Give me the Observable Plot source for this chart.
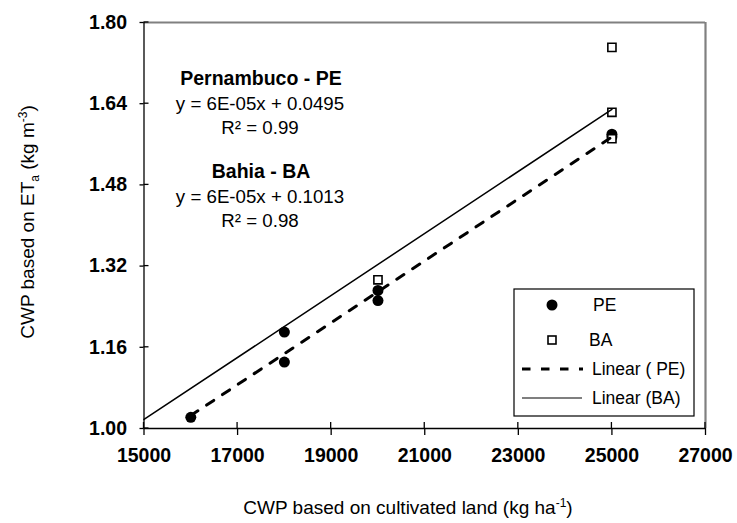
<!DOCTYPE html>
<html><head><meta charset="utf-8">
<script src="https://cdn.jsdelivr.net/npm/d3@7"></script>
<script src="https://cdn.jsdelivr.net/npm/@observablehq/plot@0.6"></script>
<style>
body{margin:0;background:#fff;}
svg{font-family:"Liberation Sans",Arial,sans-serif;}
</style>
</head><body><div id="chart"></div>
<script>
// ---- data ----
const peX = [16000, 18000, 18000, 20000, 20000, 25000, 25000];
const peY = [1.022, 1.190, 1.131, 1.272, 1.252, 1.580, 1.575];
const baX = [20000, 25000, 25000, 25000];
const baY = [1.293, 1.751, 1.623, 1.571];
const fitSlope = {PE: 6.10e-5, BA: 6.11e-5};
const fitIntercept = {PE: 0.0495, BA: 0.1013};
const fitRange = {PE: [16000, 25000], BA: [15000, 25000]};
const xTicks = [15000, 17000, 19000, 21000, 23000, 25000, 27000];
const yTicks = [1.00, 1.16, 1.32, 1.48, 1.64, 1.80];
const annotTitles = ["Pernambuco - PE", "Bahia - BA"];
const annotEqs = ["y = 6E-05x + 0.0495", "y = 6E-05x + 0.1013"];
const annotR2 = ["R\u00B2 = 0.99", "R\u00B2 = 0.98"];
const legendLabels = ["PE", "BA", "Linear ( PE)", "Linear (BA)"];

const pePts = peX.map((x, i) => ({x, y: peY[i]}));
const baPts = baX.map((x, i) => ({x, y: baY[i]}));
const fitLine = k => fitRange[k].map(x => ({x, y: fitSlope[k] * x + fitIntercept[k]}));

const font = "'Liberation Sans', Arial, sans-serif";
const ML = 143.5, MT = 22;

// annotation marks (positions relative to frame, in pixels)
const annotMarks = [];
[[49, 74, 98], [142, 167, 191]].forEach((dys, g) => {
  annotMarks.push(Plot.text([annotTitles[g]], {text: d => d, frameAnchor: "top-left", dx: 117, dy: dys[0], textAnchor: "middle", fontSize: 19.5, fontWeight: "bold", fill: "black"}));
  annotMarks.push(Plot.text([annotEqs[g]], {text: d => d, frameAnchor: "top-left", dx: 116, dy: dys[1], textAnchor: "middle", fontSize: 18.7, fill: "black"}));
  annotMarks.push(Plot.text([annotR2[g]], {text: d => d, frameAnchor: "top-left", dx: 116, dy: dys[2], textAnchor: "middle", fontSize: 18.7, fill: "black"}));
});

const svg = Plot.plot({
  width: 737, height: 523,
  marginLeft: ML, marginRight: 32, marginTop: MT, marginBottom: 95,
  style: {fontFamily: font, background: "white", color: "black", overflow: "visible"},
  x: {domain: [15000, 27000]},
  y: {domain: [1.0, 1.8]},
  marks: [
    Plot.ruleY([1.8], {stroke: "#808080", strokeWidth: 2}),
    Plot.ruleX([27000], {stroke: "#808080", strokeWidth: 2.2}),
    Plot.axisX(xTicks, {tickSize: 7, tickPadding: 13, tickFormat: d3.format("d"), fontSize: 19.5, fontWeight: "bold", label: null, strokeWidth: 1.3}),
    Plot.axisY(yTicks, {tickSize: 4, tickPadding: 13, tickFormat: d3.format(".2f"), fontSize: 19.5, fontWeight: "bold", label: null, strokeWidth: 1.3}),
    Plot.ruleX([15000], {stroke: "black", strokeWidth: 1.3}),
    Plot.ruleY([1.0], {stroke: "black", strokeWidth: 1.3}),
    Plot.dot(pePts, {x: "x", y: "y", r: 5.5, fill: "black", stroke: "none"}),
    Plot.dot(baPts, {x: "x", y: "y", symbol: "square", r: 4.6, fill: "white", stroke: "black", strokeWidth: 1.6}),
    Plot.line(fitLine("PE"), {x: "x", y: "y", stroke: "black", strokeWidth: 3, strokeDasharray: "8.5,10.5"}),
    Plot.line(fitLine("BA"), {x: "x", y: "y", stroke: "black", strokeWidth: 1.5}),
    ...annotMarks
  ]
});
document.getElementById("chart").appendChild(svg);

// ---- post-processing: inward ticks, axis titles, legend ----
const sx = svg.scale("x"), sy = svg.scale("y");
const s = d3.select(svg);
const g = s.append("g").attr("stroke", "black").attr("stroke-width", 1.3);
xTicks.forEach(v => g.append("line").attr("x1", sx.apply(v)).attr("x2", sx.apply(v)).attr("y1", sy.apply(1.0)).attr("y2", sy.apply(1.0) - 6));
yTicks.forEach(v => g.append("line").attr("y1", sy.apply(v)).attr("y2", sy.apply(v)).attr("x1", sx.apply(15000)).attr("x2", sx.apply(15000) + 5));

// x axis title
const xt = s.append("text").attr("x", 408).attr("y", 514).attr("text-anchor", "middle")
  .attr("font-size", 19).attr("fill", "black").attr("font-family", font);
xt.append("tspan").text("CWP based on cultivated land (kg ha");
xt.append("tspan").attr("dy", -7).attr("font-size", 12).text("-1");
xt.append("tspan").attr("dy", 7).text(")");

// y axis title
const yt = s.append("text").attr("transform", "translate(34,222) rotate(-90)").attr("text-anchor", "middle")
  .attr("font-size", 19).attr("fill", "black").attr("font-family", font);
yt.append("tspan").text("CWP based on ET");
yt.append("tspan").attr("dy", 5).attr("font-size", 12).text("a");
yt.append("tspan").attr("dy", -5).text(" (kg m");
yt.append("tspan").attr("dy", -7).attr("font-size", 12).text("-3");
yt.append("tspan").attr("dy", 7).text(")");

// legend
const lg = s.append("g").attr("font-family", font).attr("font-size", 17.5).attr("text-anchor", "start");
lg.append("rect").attr("x", 514).attr("y", 289).attr("width", 180).attr("height", 127)
  .attr("fill", "white").attr("stroke", "black").attr("stroke-width", 1.2);
const rows = [305, 340, 369, 398];
lg.append("circle").attr("cx", 552).attr("cy", rows[0]).attr("r", 5.5).attr("fill", "black");
lg.append("rect").attr("x", 548).attr("y", rows[1] - 4).attr("width", 8).attr("height", 8)
  .attr("fill", "white").attr("stroke", "black").attr("stroke-width", 1.6);
lg.append("line").attr("x1", 522).attr("x2", 583).attr("y1", rows[2]).attr("y2", rows[2])
  .attr("stroke", "black").attr("stroke-width", 3).attr("stroke-dasharray", "8.5,10.5");
lg.append("line").attr("x1", 522).attr("x2", 582).attr("y1", rows[3]).attr("y2", rows[3])
  .attr("stroke", "black").attr("stroke-width", 1.2);
const textX = [593, 589, 592, 592];
legendLabels.forEach((t, i) => lg.append("text").attr("x", textX[i]).attr("y", rows[i]).attr("dy", "0.35em").attr("fill", "black").attr("text-anchor", "start").text(t));
</script>
</body></html>
